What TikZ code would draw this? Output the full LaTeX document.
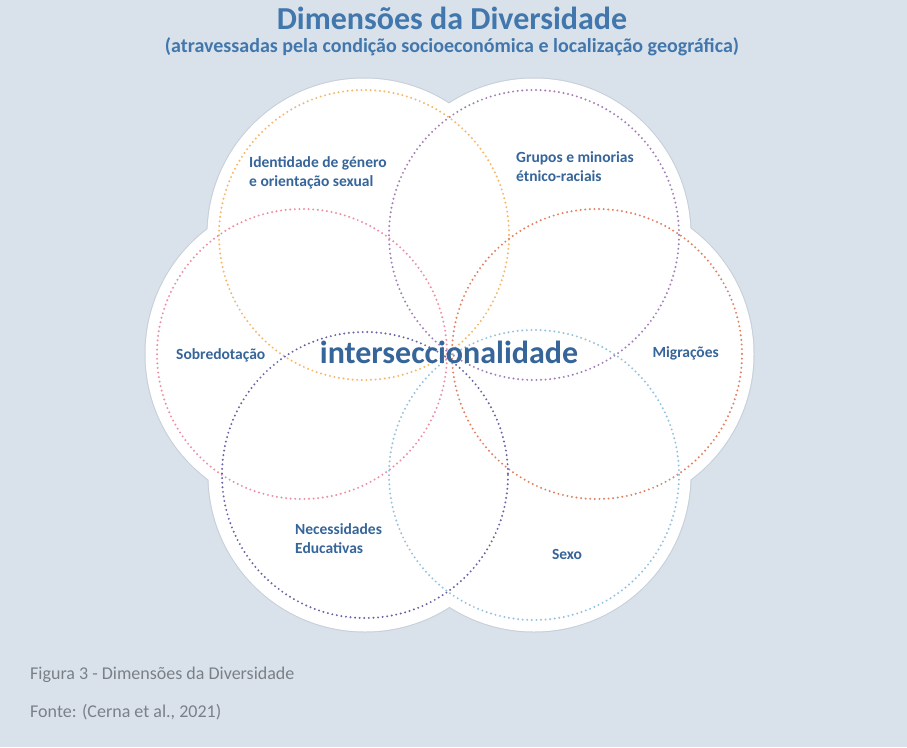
\documentclass[tikz,border=0pt]{standalone}
\usepackage{fontspec}
\setmainfont{Carlito}
\definecolor{bg}{HTML}{D9E1EA}
\definecolor{edge}{HTML}{C6CFD9}
\definecolor{txt}{HTML}{36659A}
\definecolor{ttl}{HTML}{4177AC}
\definecolor{cap}{HTML}{7B8087}
\definecolor{cOrange}{HTML}{F5B866}
\definecolor{cPurpleT}{HTML}{A47DB8}
\definecolor{cPink}{HTML}{EB8FA2}
\definecolor{cRed}{HTML}{E2805F}
\definecolor{cPurpleB}{HTML}{6C64A8}
\definecolor{cBlue}{HTML}{95C2E0}
\tikzset{
  ring/.style={line width=2.2pt, dash pattern=on 0pt off 4.6pt, line cap=round},
  lbl/.style={font=\bfseries\fontsize{15.5}{19}\selectfont, text=txt, inner sep=0pt},
}
\begin{document}
\begin{tikzpicture}[x=1pt,y=-1pt]
\fill[bg] (0,0) rectangle (907,747);
\useasboundingbox (0,0) rectangle (907,747);
% centres
\coordinate (cTL) at (364,235);
\coordinate (cTR) at (534,235);
\coordinate (cL) at (302,354);
\coordinate (cR) at (597,354);
\coordinate (cBL) at (365,475);
\coordinate (cBR) at (534,475);
% white flower with faint outline
\foreach \c in {cTL,cTR,cL,cR,cBL,cBR} \fill[edge] (\c) circle (157.5);
\foreach \c in {cTL,cTR,cL,cR,cBL,cBR} \fill[white] (\c) circle (156.5);
% dotted rings
\draw[ring, cOrange] (cTL) circle (145);
\draw[ring, cPurpleT] (cTR) circle (145);
\draw[ring, cPink] (cL) circle (145);
\draw[ring, cRed] (cR) circle (145);
\draw[ring, cPurpleB] (cBL) circle (143);
\draw[ring, cBlue] (cBR) circle (145);
% title
\node[font=\bfseries\fontsize{32}{36}\selectfont, text=ttl, inner sep=0pt, anchor=base] (title) at (452,29) {Dimensões da Diversidade};
\node[font=\bfseries\fontsize{20}{24}\selectfont, text=ttl, inner sep=0pt, anchor=base] (subtitle) at (452,52) {(atravessadas pela condição socioeconómica e localização geográfica)};
% labels
\node[lbl, anchor=west, align=left] (ident) at (249,173) {Identidade de género\\e orientação sexual};
\node[lbl, anchor=west, align=left] (grupos) at (516,167) {Grupos e minorias\\étnico-raciais};
\node[lbl, anchor=west] (sobre) at (176,355) {Sobredotação};
\node[font=\bfseries\fontsize{32}{36}\selectfont, text=txt, inner sep=0pt] (inter) at (449,352) {interseccionalidade};
\node[lbl, anchor=east] (migr) at (719,353) {Migrações};
\node[lbl, anchor=west, align=left] (nec) at (295,539) {Necessidades\\Educativas};
\node[lbl] (sexo) at (567,554) {Sexo};
% caption
\node[font=\fontsize{18}{22}\selectfont, text=cap, inner sep=0pt, anchor=base west] (fig) at (30,679) {Figura 3 - Dimensões da Diversidade};
\node[font=\fontsize{18}{22}\selectfont, text=cap, inner sep=0pt, anchor=base west] (fonte) at (30,717) {Fonte: (Cerna et al., 2021)};
\end{tikzpicture}
\end{document}
